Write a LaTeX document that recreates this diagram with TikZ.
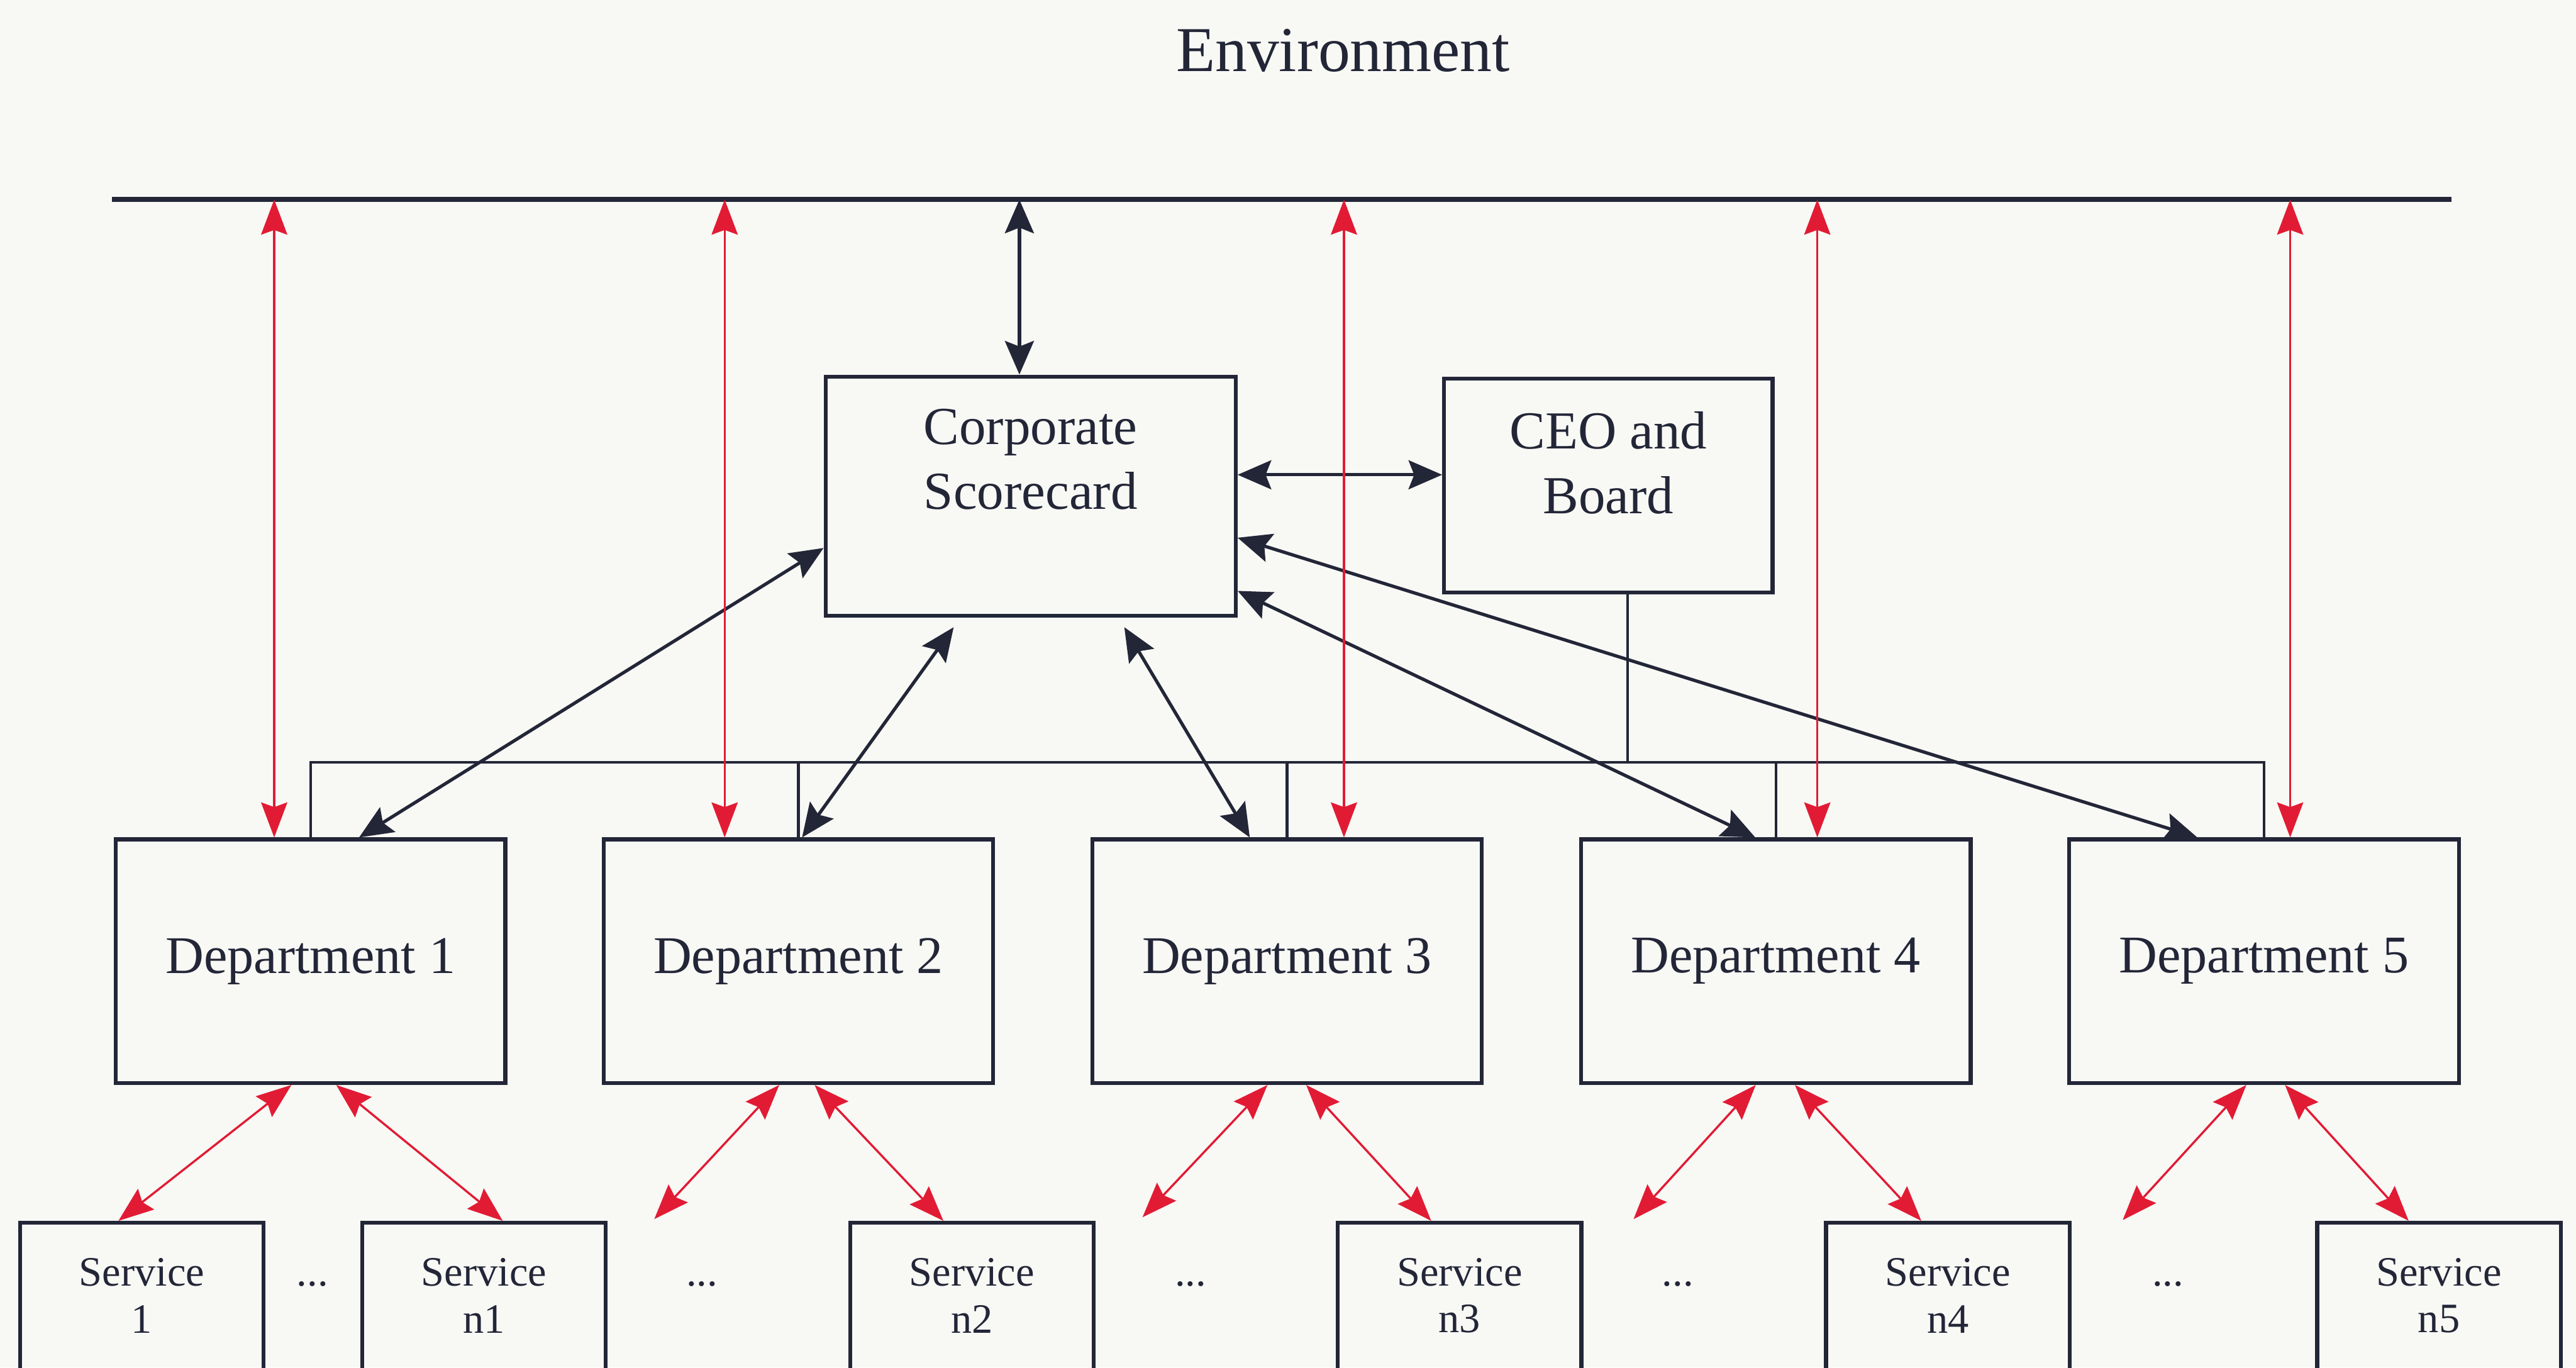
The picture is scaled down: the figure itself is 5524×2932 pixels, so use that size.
\documentclass[tikz,border=0pt]{standalone}
\usepackage{fontspec}
\setmainfont{Liberation Serif}
\usetikzlibrary{arrows.meta,calc}
\definecolor{ink}{RGB}{35,38,55}
\definecolor{linkred}{RGB}{226,27,52}
\definecolor{paper}{RGB}{248,248,245}
\tikzset{
  boxline/.style={draw=ink, line width=2.4pt, rectangle, inner sep=0pt},
  deptbox/.style={boxline, minimum width=8.35cm, minimum height=5.22cm,
    text=ink, font=\fontsize{32.3}{39}\selectfont},
  svcbox/.style={boxline, minimum width=5.22cm, minimum height=4.28cm},
  bigtxt/.style={inner sep=0pt, align=center, text=ink, font=\fontsize{32.6}{39.5}\selectfont},
  svctxt/.style={inner sep=0pt, align=center, text=ink, font=\fontsize{25.5}{28.45}\selectfont},
  envtxt/.style={inner sep=0pt, text=ink, font=\fontsize{39}{46}\selectfont},
  darrow/.style={draw=ink, line width=2pt,
    >={Stealth[length=0.72cm,width=0.62cm,inset=0.12cm]}, <->},
  rarrow/.style={draw=linkred, line width=1.3pt,
    >={Stealth[length=0.75cm,width=0.56cm,inset=0.1cm]}, <->},
  busline/.style={draw=ink, line width=1.6pt},
  envline/.style={draw=ink, line width=3pt}
}
\begin{document}
\begin{tikzpicture}[x=0.01cm, y=-0.01cm]
  \useasboundingbox (0,0) rectangle (5524,2932);
  \clip (0,0) rectangle (5524,2932);
  \fill[paper] (0,0) rectangle (5524,2932);

  % environment and its boundary line
  \node[envtxt, anchor=base] (env) at (2880,153) {Environment};
  \coordinate (envL) at (240,428);
  \coordinate (envR) at (5257,428);
  \draw[envline] (envL) -- (envR);

  % corporate level
  \node[boxline, minimum width=8.79cm, minimum height=5.13cm] (cs) at (2210,1064) {};
  \node[bigtxt] (cstxt) at (2210,985) {Corporate\\Scorecard};
  \node[boxline, minimum width=7.04cm, minimum height=4.58cm] (ceo) at (3449,1041) {};
  \node[bigtxt] (ceotxt) at (3449,992) {CEO and\\Board};

  % departments
  \node[deptbox] (d1) at (666,2061) {Department 1};
  \node[deptbox] (d2) at (1712,2061) {Department 2};
  \node[deptbox] (d3) at (2760,2061) {Department 3};
  \node[deptbox] (d4) at (3808,2061) {Department 4};
  \node[deptbox] (d5) at (4855,2061) {Department 5};

  % services
  \node[svcbox] (s1) at (304,2836) {};
  \node[svcbox] (s2) at (1038,2836) {};
  \node[svcbox] (s3) at (2084,2836) {};
  \node[svcbox] (s4) at (3130,2836) {};
  \node[svcbox] (s5) at (4177,2836) {};
  \node[svcbox] (s6) at (5230,2836) {};
  \node[svctxt] at (304,2778) {Service\\1};
  \node[svctxt] at (1038,2778) {Service\\n1};
  \node[svctxt] at (2084,2778) {Service\\n2};
  \node[svctxt] at (3130,2778) {Service\\n3};
  \node[svctxt] at (4177,2778) {Service\\n4};
  \node[svctxt] at (5230,2778) {Service\\n5};
  \foreach \x in {670,1505,2553,3598,4649}
    \node[svctxt, anchor=base] at (\x,2757) {...};

  % reporting bus from the board to the departments
  \coordinate (bus) at (0,1635);
  \coordinate (ceodrop) at ($(ceo.south)+(41,0)$);
  \draw[busline] (d1.north) -- (d1.north |- bus) -- (d5.north |- bus) -- (d5.north);
  \foreach \d in {d2,d3,d4}
    \draw[busline] (\d.north) -- (\d.north |- bus);
  \draw[busline] (ceodrop) -- (ceodrop |- bus);

  % scorecard links
  \coordinate (t0) at (2186,428);
  \draw[darrow] (t0) -- (t0 |- cs.north);
  \draw[darrow] ($(cs.east)+(0,-46)$) -- ($(ceo.west)+(0,-23)$);
  \draw[darrow] ($(cs.west)+(0,111)$) -- ($(d1.north)+(104,0)$);
  \draw[darrow] ($(cs.south)+(-165,20)$) -- ($(d2.north)+(8,0)$);
  \draw[darrow] ($(cs.south)+(201,20)$) -- ($(d3.north)+(-80,0)$);
  \draw[darrow] ($(cs.east)+(0,203)$) -- ($(d4.north)+(-44,0)$);
  \draw[darrow] ($(cs.east)+(0,89)$) -- ($(d5.north)+(-143,0)$);

  % environment to departments
  \coordinate (t1) at (588,428);
  \coordinate (t2) at (1554,428);
  \coordinate (t3) at (2882,428);
  \coordinate (t4) at (3897,428);
  \coordinate (t5) at (4911,428);
  \draw[rarrow] (t1) -- (t1 |- d1.north);
  \draw[rarrow] (t2) -- (t2 |- d2.north);
  \draw[rarrow] (t3) -- (t3 |- d3.north);
  \draw[rarrow] (t4) -- (t4 |- d4.north);
  \draw[rarrow] (t5) -- (t5 |- d5.north);

  % departments to services
  \coordinate (f2) at (1403,2614);
  \coordinate (f3) at (2450,2610);
  \coordinate (f4) at (3503,2614);
  \coordinate (f5) at (4552,2616);
  \draw[rarrow] ($(d1.south)+(-41,0)$) -- ($(s1.north)+(-50,0)$);
  \draw[rarrow] ($(d1.south)+(55,0)$) -- ($(s2.north)+(40,0)$);
  \draw[rarrow] ($(d2.south)+(-41,0)$) -- (f2);
  \draw[rarrow] ($(d2.south)+(35,0)$) -- ($(s3.north)+(-61,0)$);
  \draw[rarrow] ($(d3.south)+(-42,0)$) -- (f3);
  \draw[rarrow] ($(d3.south)+(41,0)$) -- ($(s4.north)+(-61,0)$);
  \draw[rarrow] ($(d4.south)+(-43,0)$) -- (f4);
  \draw[rarrow] ($(d4.south)+(41,0)$) -- ($(s5.north)+(-57,0)$);
  \draw[rarrow] ($(d5.south)+(-38,0)$) -- (f5);
  \draw[rarrow] ($(d5.south)+(45,0)$) -- ($(s6.north)+(-65,0)$);
\end{tikzpicture}
\end{document}
